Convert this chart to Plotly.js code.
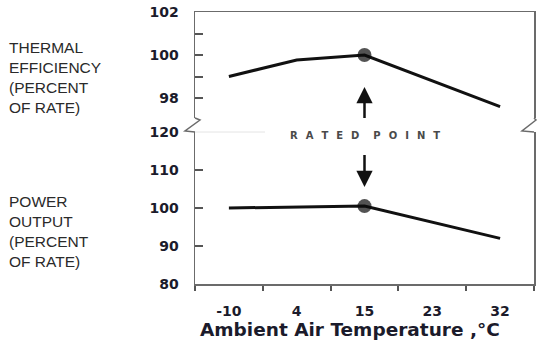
<!DOCTYPE html>
<html>
<head>
<meta charset="utf-8">
<script src="https://cdn.plot.ly/plotly-3.0.1.min.js"></script>
<style>html,body{margin:0;padding:0;background:#fff;}#chart{width:539px;height:341px;}</style>
</head>
<body>
<div id="chart"></div>
<script>
// Categories (ambient air temperature, °C)
const tempCats = ["-10", "4", "15", "23", "32"];
const ratedTemp = "15";

// Thermal efficiency (percent of rate) – vertices of the drawn line
const effTemps = ["-10", "4", "15", "32"];
const effValues = [99.0, 99.77, 100.0, 97.6];

// Power output (percent of rate)
const powTemps = ["-10", "4", "15", "32"];
const powValues = [100.0, 100.3, 100.5, 92.0];

// Tick labels
const effTicks = [98, 99, 100, 101, 102];
const effTickText = ["98", "", "100", "", "102"];
const powTicks = [80, 90, 100, 110, 120];
const powTickText = ["80", "90", "100", "110", "120"];

const markerSizes = xs => xs.map(x => x === ratedTemp ? 14 : 0);
const lineStyle = {color: "#111111", width: 3};
const tickFont = {family: "DejaVu Sans", size: 14, color: "#1b1b2b", weight: "bold"};
const axisLine = "#6b6b6b";
const tickCol = "#555555";

const traces = [
  {x: effTemps, y: effValues, xaxis: "x2", yaxis: "y2", type: "scatter", mode: "lines+markers",
   line: lineStyle, marker: {color: "#0a0a0a", size: markerSizes(effTemps), line: {width: 0}}, hoverinfo: "skip"},
  {x: powTemps, y: powValues, xaxis: "x", yaxis: "y", type: "scatter", mode: "lines+markers",
   line: lineStyle, marker: {color: "#0a0a0a", size: markerSizes(powTemps), line: {width: 0}}, hoverinfo: "skip"}
];

const W = 539, H = 341, L = 195, R = 5, T = 12, B = 57;
const pw = W - L - R, ph = H - T - B;
const px = x => (x - L) / pw;
const py = y => (H - B - y) / ph;
const pathOf = pts => pts.map((p, i) => (i ? "L" : "M") + px(p[0]).toFixed(4) + "," + py(p[1]).toFixed(4)).join(" ");

const layout = {
  width: W, height: H,
  margin: {l: L, r: R, t: T, b: B},
  paper_bgcolor: "#ffffff", plot_bgcolor: "#ffffff",
  showlegend: false,
  xaxis: {
    type: "category", categoryorder: "array", categoryarray: tempCats, range: [-0.5, 4.5],
    anchor: "y", tickson: "boundaries", ticks: "outside", ticklen: 5, tickcolor: tickCol, tickwidth: 2,
    showline: true, linecolor: axisLine, linewidth: 1.5, showgrid: false, zeroline: false,
    tickfont: tickFont, ticklabelstandoff: 14
  },
  xaxis2: {
    type: "category", categoryorder: "array", categoryarray: tempCats, range: [-0.5, 4.5],
    anchor: "y2", side: "top", showline: true, linecolor: axisLine, linewidth: 1.5,
    showticklabels: false, ticks: "", showgrid: false, zeroline: false
  },
  yaxis: {
    domain: [0, py(132)], range: [80, 120], tickmode: "array", tickvals: powTicks, ticktext: powTickText,
    ticks: "inside", ticklen: 8, tickcolor: tickCol, tickwidth: 2, showline: true, mirror: true,
    linecolor: axisLine, linewidth: 1.5, showgrid: false, zeroline: false,
    tickfont: tickFont, ticklabelstandoff: 12
  },
  yaxis2: {
    domain: [py(118), 1], range: [102 - (118 - 12) / 21.5, 102], tickmode: "array", tickvals: effTicks, ticktext: effTickText,
    ticks: "inside", ticklen: 8, tickcolor: tickCol, tickwidth: 2, showline: true, mirror: true,
    linecolor: axisLine, linewidth: 1.5, showgrid: false, zeroline: false,
    tickfont: tickFont, ticklabelstandoff: 12
  },
  shapes: [
    {type: "path", xref: "paper", yref: "paper", path: pathOf([[195,118],[200,120],[185,131],[195,132]]),
     line: {color: axisLine, width: 1.5}},
    {type: "path", xref: "paper", yref: "paper", path: pathOf([[534,118],[536,120],[522,131],[534,132]]),
     line: {color: axisLine, width: 1.5}},
    {type: "line", xref: "paper", yref: "paper", x0: px(195), x1: px(265), y0: py(132), y1: py(132),
     line: {color: "#e4e4e4", width: 1}}
  ],
  annotations: [
    {xref: "paper", yref: "paper", x: px(7), y: py(77.5), xanchor: "left", yanchor: "middle", align: "left",
     showarrow: false, text: "THERMAL<br>EFFICIENCY<br>(PERCENT<br>OF RATE)",
     font: {family: "Liberation Sans", size: 15.5, color: "#2a2a2a"}},
    {xref: "paper", yref: "paper", x: px(7), y: py(231), xanchor: "left", yanchor: "middle", align: "left",
     showarrow: false, text: "POWER<br>OUTPUT<br>(PERCENT<br>OF RATE)",
     font: {family: "Liberation Sans", size: 15.5, color: "#2a2a2a"}},
    {xref: "paper", yref: "paper", x: px(350), y: py(329), xanchor: "center", yanchor: "middle", showarrow: false,
     text: "Ambient Air Temperature ,°C",
     font: {family: "DejaVu Sans", size: 18.5, color: "#1b1b2b", weight: "bold"}},
    {xref: "x", yref: "paper", x: 2, y: py(135), xanchor: "center", yanchor: "middle", showarrow: false,
     text: ["R","A","T","E","D"].join("\u2002\u2009\u200A") + "\u2003\u2009\u2009" + ["P","O","I","N","T"].join("\u2002\u2009\u200A"),
     font: {family: "DejaVu Sans", size: 10, color: "#4a4a4a", weight: "bold"}},
    {xref: "x2", yref: "y2", x: 2, y: 102 - (87 - 12) / 21.5, ax: 0, ay: 41, text: " ",
     showarrow: true, arrowhead: 2, arrowsize: 1.3, arrowwidth: 2.5, arrowcolor: "#111", standoff: 0},
    {xref: "x", yref: "y", x: 2, y: 80 + (284 - 187) / 3.8, ax: 0, ay: -42, text: " ",
     showarrow: true, arrowhead: 2, arrowsize: 1.3, arrowwidth: 2.5, arrowcolor: "#111", standoff: 0}
  ]
};

Plotly.newPlot("chart", traces, layout, {staticPlot: true, displayModeBar: false});
</script>
</body>
</html>
